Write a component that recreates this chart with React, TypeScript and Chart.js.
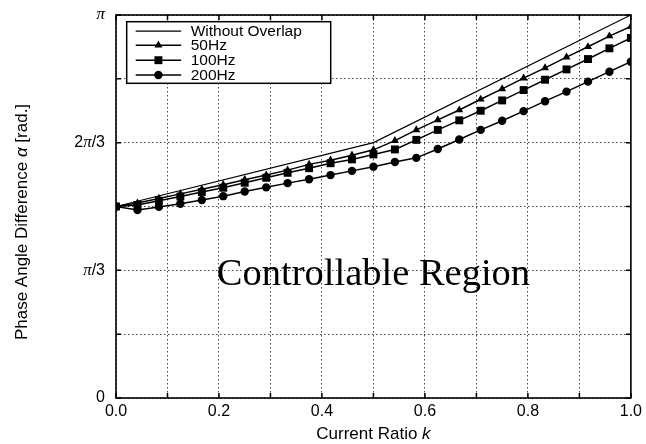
import React, { useEffect, useRef } from 'react';
import { Chart, registerables } from 'chart.js';

Chart.register(...registerables);

// Current ratio k (marker positions)
const kValues = [
  0, 0.0417, 0.0833, 0.125, 0.1667, 0.2083, 0.25, 0.2917, 0.3333, 0.375, 0.4167, 0.4583, 0.5,
  0.5417, 0.5833, 0.625, 0.6667, 0.7083, 0.75, 0.7917, 0.8333, 0.875, 0.9167, 0.9583, 1.0,
];

// Phase angle difference, in units of pi
const noOverlapK = [0, 0.5, 1.0];
const noOverlapAlpha = [0.5, 0.6667, 1.0];

const alpha50Hz = [
  0.5, 0.509, 0.521, 0.533, 0.545, 0.557, 0.57, 0.582, 0.595, 0.61, 0.621, 0.634, 0.648,
  0.672, 0.7, 0.726, 0.752, 0.78, 0.807, 0.835, 0.862, 0.89, 0.917, 0.945, 0.97,
];
const alpha100Hz = [
  0.5, 0.504, 0.515, 0.526, 0.538, 0.549, 0.562, 0.575, 0.588, 0.6, 0.613, 0.623, 0.636,
  0.649, 0.674, 0.7, 0.725, 0.75, 0.777, 0.804, 0.831, 0.858, 0.885, 0.913, 0.94,
];
const alpha200Hz = [
  0.5, 0.491, 0.499, 0.507, 0.517, 0.527, 0.539, 0.55, 0.561, 0.571, 0.582, 0.593, 0.604,
  0.616, 0.627, 0.65, 0.675, 0.7, 0.724, 0.749, 0.775, 0.8, 0.826, 0.852, 0.878,
];

const seriesNames = ['Without Overlap', '50Hz', '100Hz', '200Hz'];
const seriesMarkers: (string | false)[] = [false, 'triangle', 'rect', 'circle'];

const yGridValues = [0, 1 / 6, 2 / 6, 3 / 6, 4 / 6, 5 / 6, 1];
// y tick labels as [text, isItalicPi] parts
const yTickLabels: [string, boolean][][] = [
  [['0', false]],
  [],
  [['π', true], ['/3', false]],
  [],
  [['2', false], ['π', true], ['/3', false]],
  [],
  [['π', true]],
];
const xGridValues = [0, 0.1, 0.2, 0.3, 0.4, 0.5, 0.6, 0.7, 0.8, 0.9, 1.0];
const xTickLabels = ['0.0', '', '0.2', '', '0.4', '', '0.6', '', '0.8', '', '1.0'];

const regionText = 'Controllable Region';
const xTitle: [string, boolean][] = [['Current Ratio ', false], ['k', true]];
const yTitle: [string, boolean][] = [
  ['Phase Angle Difference ', false],
  ['α', true],
  [' [rad.]', false],
];

const SANS = '"Liberation Sans", Arial, Helvetica, sans-serif';
const SERIF = '"Liberation Serif", "Times New Roman", serif';
const TITLE_SIZE = 17;
const TICK_SIZE = 16;
const LEGEND_SIZE = 15.5;

function markerRadius(style: string | false) {
  if (style === 'rect') return 5.6;
  if (style === 'triangle') return 4.6;
  if (style === 'circle') return 4.2;
  return 0;
}

function drawMarker(ctx: CanvasRenderingContext2D, style: string, x: number, y: number, r: number) {
  ctx.beginPath();
  if (style === 'circle') {
    ctx.arc(x, y, r, 0, Math.PI * 2);
  } else if (style === 'rect') {
    const s = Math.SQRT1_2 * r;
    ctx.rect(x - s, y - s, 2 * s, 2 * s);
  } else if (style === 'triangle') {
    const a = (Math.PI * 2) / 3;
    ctx.moveTo(x, y - r);
    ctx.lineTo(x + Math.sin(a) * r, y - Math.cos(a) * r);
    ctx.lineTo(x - Math.sin(a) * r, y - Math.cos(a) * r);
    ctx.closePath();
  }
  ctx.fill();
}

function drawMixed(ctx: CanvasRenderingContext2D, parts: [string, boolean][], cx: number, cy: number, size: number) {
  let total = 0;
  const widths = parts.map(([t, it]) => {
    ctx.font = `${it ? 'italic ' : ''}${size}px ${SANS}`;
    const w = ctx.measureText(t).width;
    total += w;
    return w;
  });
  let x = cx - total / 2;
  ctx.textAlign = 'left';
  ctx.textBaseline = 'middle';
  parts.forEach(([t, it], i) => {
    ctx.font = `${it ? 'italic ' : ''}${size}px ${SANS}`;
    ctx.fillText(t, x, cy);
    x += widths[i];
  });
}

function drawTickRight(ctx: CanvasRenderingContext2D, parts: [string, boolean][], right: number, cy: number, size: number) {
  const fontOf = (pi: boolean) => (pi ? `italic ${size + 1}px ${SERIF}` : `${size}px ${SANS}`);
  let total = 0;
  const widths = parts.map(([t, pi]) => {
    ctx.font = fontOf(pi);
    const w = ctx.measureText(t).width;
    total += w;
    return w;
  });
  let x = right - total;
  ctx.textAlign = 'left';
  ctx.textBaseline = 'middle';
  parts.forEach(([t, pi], i) => {
    ctx.font = fontOf(pi);
    ctx.fillText(t, x, cy);
    x += widths[i];
  });
}

const decorPlugin = {
  id: 'decor',
  afterDraw(chart: any) {
    const { ctx, chartArea: a, scales } = chart;
    const xs = scales.x;
    const ys = scales.y;
    ctx.save();
    ctx.strokeStyle = '#000';
    ctx.fillStyle = '#000';
    ctx.lineWidth = 1.6;
    ctx.strokeRect(a.left, a.top, a.right - a.left, a.bottom - a.top);

    // inward ticks
    ctx.lineWidth = 1.5;
    const tl = 5;
    ctx.beginPath();
    xGridValues.forEach((v) => {
      const px = xs.getPixelForValue(v);
      ctx.moveTo(px, a.bottom);
      ctx.lineTo(px, a.bottom - tl);
      ctx.moveTo(px, a.top);
      ctx.lineTo(px, a.top + tl);
    });
    yGridValues.forEach((v) => {
      const py = ys.getPixelForValue(v);
      ctx.moveTo(a.left, py);
      ctx.lineTo(a.left + tl, py);
      ctx.moveTo(a.right, py);
      ctx.lineTo(a.right - tl, py);
    });
    ctx.stroke();

    // y tick labels (italic pi)
    ctx.fillStyle = '#000';
    yGridValues.forEach((v, i) => {
      if (yTickLabels[i].length) drawTickRight(ctx, yTickLabels[i], a.left - 11, ys.getPixelForValue(v), TICK_SIZE);
    });

    // region label
    ctx.font = `38.5px ${SERIF}`;
    ctx.textAlign = 'center';
    ctx.textBaseline = 'alphabetic';
    ctx.fillText(regionText, (a.left + a.right) / 2, ys.getPixelForValue(0.295));

    // axis titles
    drawMixed(ctx, xTitle, (a.left + a.right) / 2, 434, TITLE_SIZE);
    ctx.save();
    ctx.translate(22, 222);
    ctx.rotate(-Math.PI / 2);
    drawMixed(ctx, yTitle, 0, 0, TITLE_SIZE);
    ctx.restore();

    // legend
    const lx = a.left + 10.7;
    const ly = a.top + 6.7;
    const lw = 204;
    const lh = 61.6;
    ctx.fillStyle = '#fff';
    ctx.fillRect(lx, ly, lw, lh);
    ctx.strokeStyle = '#000';
    ctx.lineWidth = 1.5;
    ctx.strokeRect(lx, ly, lw, lh);
    const rows = [ly + 9.5, ly + 23.5, ly + 38.5, ly + 53.3];
    seriesNames.forEach((name, i) => {
      const ry = rows[i];
      ctx.strokeStyle = '#000';
      ctx.lineWidth = i === 0 ? 1.2 : 1.5;
      ctx.beginPath();
      ctx.moveTo(lx + 9, ry);
      ctx.lineTo(lx + 54.5, ry);
      ctx.stroke();
      const st = seriesMarkers[i];
      ctx.fillStyle = '#000';
      if (st) drawMarker(ctx, st, lx + 31.7, ry, markerRadius(st));
      ctx.font = `${LEGEND_SIZE}px ${SANS}`;
      ctx.textAlign = 'left';
      ctx.textBaseline = 'middle';
      ctx.fillText(name, lx + 64, ry + 0.5);
    });
    ctx.restore();
  },
};

export default function App() {
  const canvasRef = useRef<HTMLCanvasElement | null>(null);

  useEffect(() => {
    document.body.style.margin = '0';
    const canvas = canvasRef.current;
    if (!canvas) return;

    const mk = (vals: number[]) => kValues.map((k, i) => ({ x: k, y: vals[i] }));
    const markerSet = (label: string, vals: number[], style: string) => ({
      label,
      data: mk(vals),
      borderColor: '#000',
      backgroundColor: '#000',
      borderWidth: 1.5,
      pointStyle: style,
      pointRadius: markerRadius(style),
      pointBackgroundColor: '#000',
      pointBorderColor: '#000',
      pointBorderWidth: 0,
      tension: 0,
    });

    const chart = new Chart(canvas, {
      type: 'line',
      data: {
        datasets: [
          {
            label: seriesNames[0],
            data: noOverlapK.map((k, i) => ({ x: k, y: noOverlapAlpha[i] })),
            borderColor: '#000',
            borderWidth: 1.2,
            pointRadius: 0,
            tension: 0,
          },
          markerSet(seriesNames[1], alpha50Hz, 'triangle'),
          markerSet(seriesNames[2], alpha100Hz, 'rect'),
          markerSet(seriesNames[3], alpha200Hz, 'circle'),
        ] as any,
      },
      options: {
        animation: false,
        responsive: false,
        devicePixelRatio: 1,
        layout: { padding: { left: 0, top: 15, right: 11, bottom: 0 } },
        plugins: {
          legend: { display: false },
          tooltip: { enabled: false },
          title: { display: false },
        },
        scales: {
          x: {
            type: 'linear',
            min: 0,
            max: 1,
            afterBuildTicks: (scale: any) => {
              scale.ticks = xGridValues.map((v) => ({ value: v }));
            },
            afterFit: (scale: any) => {
              scale.height = 46;
            },
            ticks: {
              autoSkip: false,
              maxRotation: 0,
              padding: 4,
              color: '#000',
              font: { family: SANS, size: TICK_SIZE },
              callback: (_v: any, i: number) => xTickLabels[i],
            },
            grid: { drawTicks: false, color: '#444', lineWidth: 1 },
            border: { display: false, dash: [1.5, 2.5] },
          },
          y: {
            type: 'linear',
            min: 0,
            max: 1,
            afterBuildTicks: (scale: any) => {
              scale.ticks = yGridValues.map((v) => ({ value: v }));
            },
            afterFit: (scale: any) => {
              scale.width = 116;
            },
            ticks: { display: false },
            grid: { drawTicks: false, color: '#444', lineWidth: 1 },
            border: { display: false, dash: [1.5, 2.5] },
          },
        },
      } as any,
      plugins: [decorPlugin],
    });

    return () => chart.destroy();
  }, []);

  return (
    <div style={{ width: 646, height: 444, background: '#fff' }}>
      <canvas ref={canvasRef} width={646} height={444} style={{ display: 'block', width: 646, height: 444 }} />
    </div>
  );
}
